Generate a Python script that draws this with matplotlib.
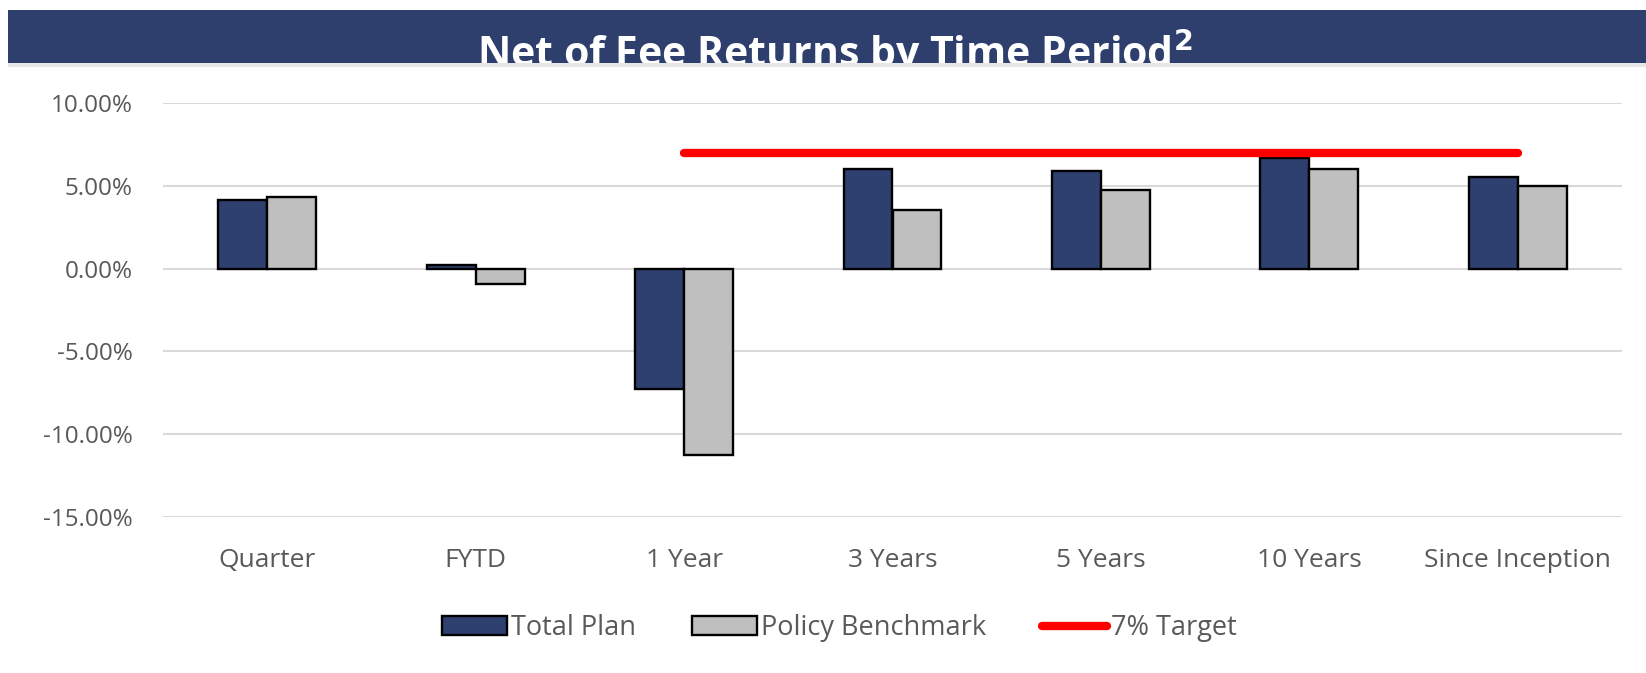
import numpy as np
import matplotlib
matplotlib.use("Agg")
import matplotlib.pyplot as plt
from matplotlib.patches import Rectangle, Patch
from matplotlib.lines import Line2D

# data (percent)
periods = ["Quarter", "FYTD", "1 Year", "3 Years", "5 Years", "10 Years", "Since Inception"]
total_plan = [4.15, 0.24, -7.27, 6.00, 5.92, 6.69, 5.51]
policy_benchmark = [4.33, -0.92, -11.25, 3.56, 4.76, 6.00, 4.96]
target = [np.nan, np.nan, 7.0, 7.0, 7.0, 7.0, 7.0]

NAVY = "#2E4070"
GREY = "#BFBFBF"
TXT = "#595959"

plt.rcParams["font.family"] = ["Open Sans", "DejaVu Sans"]

fig = plt.figure(figsize=(16.46, 6.73), dpi=100)
W, H = 1646, 673

# title band
band = Rectangle((8 / W, 1 - 63 / H), 1 - 8 / W, 52.5 / H, transform=fig.transFigure,
                 facecolor="#2E3F6E", edgecolor="none")
fig.patches.append(band)
fig.patches.append(Rectangle((8 / W, 1 - 67 / H), 1 - 8 / W, 4 / H, transform=fig.transFigure,
                             facecolor="#E6E6E6", edgecolor="none"))
t = fig.text(835 / W, 1 - 67 / H, r"Net of Fee Returns by Time Period$^{\mathbf{2}}$",
             color="white", fontsize=29.5, fontweight="bold", ha="center", va="baseline",
             clip_on=True)
t.set_clip_path(band)

ax = fig.add_axes([163 / W, 1 - 517 / H, (1622 - 163) / W, (517 - 103) / H])
x = np.arange(len(periods))
bw = 0.235
ax.bar(x - bw / 2, total_plan, bw, color=NAVY, edgecolor="black", linewidth=1.7, zorder=3)
ax.bar(x + bw / 2, policy_benchmark, bw, color=GREY, edgecolor="black", linewidth=1.7, zorder=3)
ax.plot(x, target, color="#FF0000", linewidth=6, solid_capstyle="round", zorder=4)

ax.set_xlim(-0.5, len(periods) - 0.5)
ax.set_ylim(-15, 10)
ax.set_yticks(np.arange(-15, 10.1, 5))
ax.set_yticklabels([f"{v:.2f}%" for v in np.arange(-15, 10.1, 5)])
ax.set_xticks(x)
ax.set_xticklabels(periods)
ax.tick_params(axis="both", length=0, colors=TXT)
ax.tick_params(axis="y", pad=22, labelsize=17.5)
ax.tick_params(axis="x", pad=22, labelsize=19)
ax.yaxis.grid(True, color="#D9D9D9", linewidth=1.5, zorder=0)
ax.set_axisbelow(True)
for s in ax.spines.values():
    s.set_visible(False)

handles = [
    Patch(facecolor=NAVY, edgecolor="black", linewidth=1.7),
    Patch(facecolor=GREY, edgecolor="black", linewidth=1.7),
    Line2D([0], [0], color="#FF0000", linewidth=6, solid_capstyle="round"),
]
leg = fig.legend(handles, ["Total Plan", "Policy Benchmark", "7% Target"], loc="center",
                 bbox_to_anchor=(0.51, 1 - 628 / H), ncol=3, frameon=False, fontsize=19.5,
                 handlelength=2.4, handleheight=0.7, handletextpad=0.15, columnspacing=2.05)
for txt in leg.get_texts():
    txt.set_color(TXT)

fig.savefig("out.png", dpi=100)
